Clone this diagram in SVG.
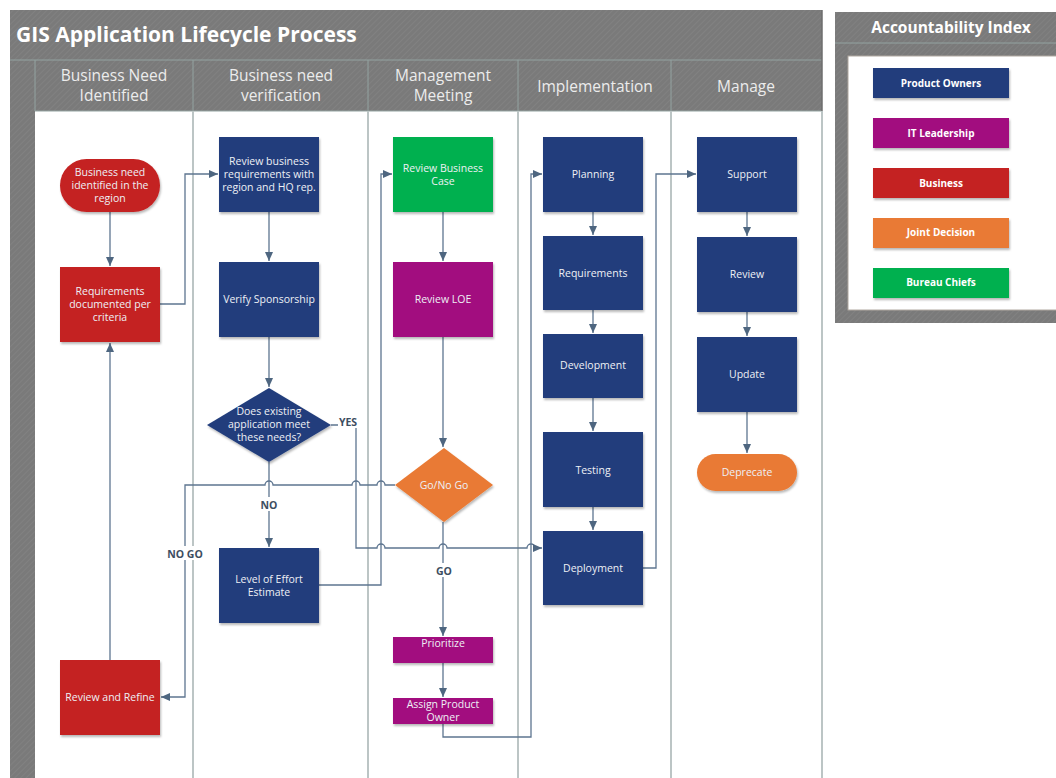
<svg xmlns="http://www.w3.org/2000/svg" width="1056" height="778" viewBox="0 0 1056 778">
<defs>
<pattern id="hatch" width="4" height="4" patternUnits="userSpaceOnUse" patternTransform="rotate(45)">
<rect width="4" height="4" fill="#7a7a7a"/>
<line x1="0" y1="0" x2="0" y2="4" stroke="#858585" stroke-width="1.2"/>
</pattern>
<filter id="sh" x="-10%" y="-10%" width="125%" height="130%">
<feDropShadow dx="1" dy="2" stdDeviation="1.2" flood-color="#000" flood-opacity="0.28"/>
</filter>
<marker id="arr" markerWidth="10" markerHeight="10" refX="9" refY="5" orient="auto" markerUnits="userSpaceOnUse">
<path d="M0,1 L9,5 L0,9 Z" fill="#4e6680"/>
</marker>
</defs>
<style>
.hdr{fill:url(#hatch)}
.lanetxt{font-family:"Open Sans","Noto Sans",sans-serif;font-size:15.5px;fill:#ececec;text-anchor:middle}
.title{font-family:"Open Sans","Noto Sans",sans-serif;font-size:21px;font-weight:bold;fill:#ffffff}
.lt{font-family:"Open Sans","Noto Sans",sans-serif;font-size:15.5px;font-weight:bold;fill:#ffffff;text-anchor:middle}
.lg{font-family:"Open Sans","Noto Sans",sans-serif;font-size:10px;font-weight:bold;fill:#ffffff;text-anchor:middle}
.nt{font-family:"Open Sans","Noto Sans",sans-serif;font-size:10.5px;fill:#eef0f5;text-anchor:middle}
.lbl{font-family:"Open Sans","Noto Sans",sans-serif;font-size:10.5px;font-weight:bold;fill:#3d4e61;text-anchor:middle}
.navy{fill:#213e7b;filter:url(#sh)}
.red{fill:#c42222;filter:url(#sh)}
.purple{fill:#a2117f;filter:url(#sh)}
.green{fill:#05b04f;filter:url(#sh)}
.orange{fill:#e97a34;filter:url(#sh)}
.div{stroke:#bcc5c5;stroke-width:2}
.hdiv{stroke:#93a3a1;stroke-width:1}
.con{fill:none;stroke:#5d7590;stroke-width:1.3}
.conA{fill:none;stroke:#5d7590;stroke-width:1.3;marker-end:url(#arr)}
</style>

<!-- main pool -->
<g id="pool">
<rect x="10" y="10" width="812" height="780" fill="#ffffff"/>
<rect class="hdr" x="10" y="10" width="812" height="50"/>
<rect class="hdr" x="10" y="60" width="25" height="730"/>
<rect class="hdr" x="35" y="60" width="787" height="51"/>
<line x1="10" y1="60" x2="822" y2="60" class="hdiv"/>
<line x1="35" y1="111" x2="822" y2="111" class="hdiv"/>
<line x1="35" y1="60" x2="35" y2="111" class="hdiv"/>
<line x1="193" y1="60" x2="193" y2="111" class="hdiv"/>
<line x1="368" y1="60" x2="368" y2="111" class="hdiv"/>
<line x1="518" y1="60" x2="518" y2="111" class="hdiv"/>
<line x1="671" y1="60" x2="671" y2="111" class="hdiv"/>
<line x1="193" y1="111" x2="193" y2="778" class="div"/>
<line x1="368" y1="111" x2="368" y2="778" class="div"/>
<line x1="518" y1="111" x2="518" y2="778" class="div"/>
<line x1="671" y1="111" x2="671" y2="778" class="div"/>
<line x1="822" y1="10" x2="822" y2="778" stroke="#6e6e6e" stroke-width="1.5"/>
<line x1="822" y1="111" x2="822" y2="778" stroke="#bcc5c5" stroke-width="2"/>
<text class="title" x="16" y="42">GIS Application Lifecycle Process</text>
<text class="lanetxt" x="114" y="81">Business Need</text>
<text class="lanetxt" x="114" y="101">Identified</text>
<text class="lanetxt" x="281" y="81">Business need</text>
<text class="lanetxt" x="281" y="101">verification</text>
<text class="lanetxt" x="443" y="81">Management</text>
<text class="lanetxt" x="443" y="101">Meeting</text>
<text class="lanetxt" x="595" y="92">Implementation</text>
<text class="lanetxt" x="746" y="92">Manage</text>
</g>

<!-- legend -->
<g id="legend">
<rect class="hdr" x="835" y="12" width="230" height="311"/>
<line x1="835" y1="43" x2="1056" y2="43" class="hdiv"/>
<rect x="848" y="56" width="220" height="254" fill="#ffffff" stroke="#b0a8a0" stroke-width="1"/>
<text class="lt" x="951" y="33">Accountability Index</text>
<rect class="navy" x="873" y="68" width="136" height="30"/>
<text class="lg" x="941" y="87">Product Owners</text>
<rect class="purple" x="873" y="118" width="136" height="30"/>
<text class="lg" x="941" y="137">IT Leadership</text>
<rect class="red" x="873" y="168" width="136" height="30"/>
<text class="lg" x="941" y="187">Business</text>
<rect class="orange" x="873" y="218" width="136" height="30"/>
<text class="lg" x="941" y="236">Joint Decision</text>
<rect class="green" x="873" y="268" width="136" height="30"/>
<text class="lg" x="941" y="286">Bureau Chiefs</text>
</g>

<!-- connectors -->
<g id="connectors">
<path class="conA" d="M110,212 V266"/>
<path class="conA" d="M160,304 H185 V174 H218"/>
<path class="conA" d="M269,212 V261"/>
<path class="conA" d="M269,337 V387"/>
<path class="conA" d="M269,462 V547"/>
<path class="conA" d="M331,425 H356 V548 H377 a4,4 0 0 1 8,0 H439 a4,4 0 0 1 8,0 H527 a4,4 0 0 1 8,0 H542"/>
<path class="conA" d="M318,585 H381 V174 H392"/>
<path class="conA" d="M443,212 V261"/>
<path class="conA" d="M443,337 V447"/>
<path class="conA" d="M395,485 H385 a4,4 0 0 0 -8,0 H360 a4,4 0 0 0 -8,0 H273 a4,4 0 0 0 -8,0 H185 V697 H161"/>
<path class="conA" d="M110,660 V343"/>
<path class="conA" d="M443,522 V636"/>
<path class="conA" d="M443,663 V697"/>
<path class="conA" d="M443,724 V737 H531 V174 H542"/>
<path class="conA" d="M593,212 V235"/>
<path class="conA" d="M593,310 V333"/>
<path class="conA" d="M593,398 V431"/>
<path class="conA" d="M593,507 V530"/>
<path class="conA" d="M643,568 H656 V174 H696"/>
<path class="conA" d="M747,212 V236"/>
<path class="conA" d="M747,312 V336"/>
<path class="conA" d="M747,412 V453"/>
<rect x="338" y="415" width="20" height="13" fill="#ffffff"/>
<text class="lbl" x="348" y="426">YES</text>
<rect x="259" y="497" width="20" height="14" fill="#ffffff"/>
<text class="lbl" x="269" y="509">NO</text>
<rect x="433" y="563" width="21" height="14" fill="#ffffff"/>
<text class="lbl" x="444" y="575">GO</text>
<rect x="166" y="546" width="39" height="14" fill="#ffffff"/>
<text class="lbl" x="185" y="558">NO GO</text>
</g>

<!-- lane 1 -->
<g id="n-business-need">
<rect class="red" x="60" y="159" width="100" height="53" rx="26.5"/>
<text class="nt" x="110" y="176">Business need</text>
<text class="nt" x="110" y="189">identified in the</text>
<text class="nt" x="110" y="202">region</text>
</g>
<g id="n-requirements-doc">
<rect class="red" x="60" y="267" width="100" height="75"/>
<text class="nt" x="110" y="295">Requirements</text>
<text class="nt" x="110" y="308">documented per</text>
<text class="nt" x="110" y="321">criteria</text>
</g>
<g id="n-review-refine">
<rect class="red" x="60" y="660" width="100" height="75"/>
<text class="nt" x="110" y="701">Review and Refine</text>
</g>

<!-- lane 2 -->
<g id="n-review-business-req">
<rect class="navy" x="219" y="137" width="100" height="75"/>
<text class="nt" x="269" y="165">Review business</text>
<text class="nt" x="269" y="178">requirements with</text>
<text class="nt" x="269" y="191">region and HQ rep.</text>
</g>
<g id="n-verify">
<rect class="navy" x="219" y="262" width="100" height="75"/>
<text class="nt" x="269" y="303">Verify Sponsorship</text>
</g>
<g id="n-existing">
<path class="navy" d="M269,388 L331,425 L269,462 L207,425 Z"/>
<text class="nt" x="269" y="415">Does existing</text>
<text class="nt" x="269" y="428">application meet</text>
<text class="nt" x="269" y="441">these needs?</text>
</g>
<g id="n-loe">
<rect class="navy" x="219" y="548" width="100" height="75"/>
<text class="nt" x="269" y="583">Level of Effort</text>
<text class="nt" x="269" y="596">Estimate</text>
</g>

<!-- lane 3 -->
<g id="n-review-case">
<rect class="green" x="393" y="137" width="100" height="75"/>
<text class="nt" x="443" y="172">Review Business</text>
<text class="nt" x="443" y="185">Case</text>
</g>
<g id="n-review-loe">
<rect class="purple" x="393" y="262" width="100" height="75"/>
<text class="nt" x="443" y="303">Review LOE</text>
</g>
<g id="n-gonogo">
<path class="orange" d="M444,448 L493,485 L444,522 L395,485 Z"/>
<text class="nt" x="444" y="489">Go/No Go</text>
</g>
<g id="n-prioritize">
<rect class="purple" x="393" y="637" width="100" height="26"/>
<text class="nt" x="443" y="647">Prioritize</text>
</g>
<g id="n-assign">
<rect class="purple" x="393" y="698" width="100" height="26"/>
<text class="nt" x="443" y="708">Assign Product</text>
<text class="nt" x="443" y="721">Owner</text>
</g>

<!-- lane 4 -->
<g id="n-planning">
<rect class="navy" x="543" y="137" width="100" height="75"/>
<text class="nt" x="593" y="178">Planning</text>
</g>
<g id="n-requirements">
<rect class="navy" x="543" y="236" width="100" height="74"/>
<text class="nt" x="593" y="277">Requirements</text>
</g>
<g id="n-development">
<rect class="navy" x="543" y="334" width="100" height="64"/>
<text class="nt" x="593" y="369">Development</text>
</g>
<g id="n-testing">
<rect class="navy" x="543" y="432" width="100" height="75"/>
<text class="nt" x="593" y="474">Testing</text>
</g>
<g id="n-deployment">
<rect class="navy" x="543" y="531" width="100" height="74"/>
<text class="nt" x="593" y="572">Deployment</text>
</g>

<!-- lane 5 -->
<g id="n-support">
<rect class="navy" x="697" y="137" width="100" height="75"/>
<text class="nt" x="747" y="178">Support</text>
</g>
<g id="n-review">
<rect class="navy" x="697" y="237" width="100" height="75"/>
<text class="nt" x="747" y="278">Review</text>
</g>
<g id="n-update">
<rect class="navy" x="697" y="337" width="100" height="75"/>
<text class="nt" x="747" y="378">Update</text>
</g>
<g id="n-deprecate">
<rect class="orange" x="697" y="454" width="100" height="37" rx="18.5"/>
<text class="nt" x="747" y="476">Deprecate</text>
</g>
</svg>
